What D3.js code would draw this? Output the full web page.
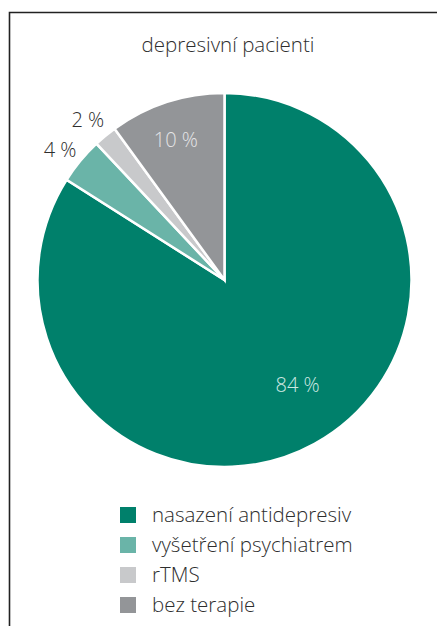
<!DOCTYPE html>
<html><head><meta charset="utf-8">
<script src="https://cdn.jsdelivr.net/npm/d3@7"></script>
<style>
html,body{margin:0;padding:0;background:#fff;}
svg{display:block;font-family:"Open Sans",sans-serif;font-weight:300;}
</style></head>
<body>
<svg id="c" width="437" height="626"></svg>
<script>
const title = "depresivní pacienti";
const categories = ["nasazení antidepresiv", "vyšetření psychiatrem", "rTMS", "bez terapie"];
const values = [84, 4, 2, 10];
const valueLabels = ["84 %", "4 %", "2 %", "10 %"];
const colors = ["#00806b", "#6ab4a8", "#c8c9cb", "#939598"];

const svg = d3.select("#c");
const W = 437, H = 626;

// frame
svg.append("path").attr("d", `M9.5,${H} L9.5,12.5 L${W},12.5`)
  .attr("fill","none").attr("stroke","#222").attr("stroke-width",1.6);

svg.append("text").attr("x",228).attr("y",52).attr("text-anchor","middle")
  .attr("font-size",20.5).attr("fill","#2e2e2e").text(title);

const cx = 224.5, cy = 280, R = 187;
const pie = d3.pie().sort(null).value(d=>d)(values);
const arc = d3.arc().innerRadius(0).outerRadius(R);
const g = svg.append("g").attr("transform",`translate(${cx},${cy})`);
g.selectAll("path").data(pie).join("path")
  .attr("d",arc).attr("fill",(d,i)=>colors[i])
  .attr("stroke","#fff").attr("stroke-width",2.5).attr("stroke-linejoin","miter");

// label placement (radius factor, angle offset in degrees)
const labelPos = [
  {r:0.685, off:-6},
  {r:1.12, off:-1.3},
  {r:1.125, off:-0.9},
  {r:0.79, off:-1.2}
];
const labelColors = ["#cde8e2","#2e2e2e","#2e2e2e","#e4e4e6"];
g.selectAll("text.v").data(pie).join("text").attr("class","v")
  .attr("transform",(d,i)=>{
    const a = (d.startAngle+d.endAngle)/2 + labelPos[i].off*Math.PI/180;
    const r = R*labelPos[i].r;
    return `translate(${Math.sin(a)*r},${-Math.cos(a)*r})`;
  })
  .attr("text-anchor","middle").attr("dy","0.35em")
  .attr("font-size",20).attr("fill",(d,i)=>labelColors[i])
  .text((d,i)=>valueLabels[i]);

// legend
const lg = svg.append("g").attr("transform","translate(120,507)");
const row = lg.selectAll("g").data(categories).join("g")
  .attr("transform",(d,i)=>`translate(0,${i*30})`);
row.append("rect").attr("width",16).attr("height",16).attr("fill",(d,i)=>colors[i]);
row.append("text").attr("x",32).attr("y",8).attr("dy","0.35em")
  .attr("font-size",20.5).attr("fill","#2e2e2e").text(d=>d);
</script>
</body></html>
